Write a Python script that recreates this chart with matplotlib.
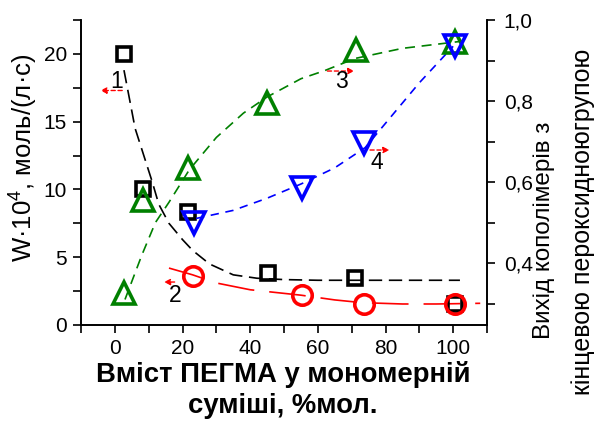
import matplotlib
matplotlib.use("Agg")
import matplotlib.pyplot as plt
from matplotlib.ticker import MultipleLocator, FuncFormatter

plt.rcParams['font.family'] = ['Liberation Sans', 'DejaVu Sans']
plt.rcParams['mathtext.fontset'] = 'custom'
plt.rcParams['mathtext.rm'] = 'Liberation Sans'
plt.rcParams['mathtext.it'] = 'Liberation Sans'

# Series 1: rate W (left axis), black squares
x1 = [2.7, 8.3, 21.5, 45.4, 71, 100.6]
y1 = [20.0, 10.0, 8.35, 3.85, 3.45, 1.55]
# fitted curve 1
fx1 = [2.7, 6, 11, 13, 16, 20, 23, 28, 35, 42, 50, 60, 75, 90, 102]
fy1 = [18.8, 14.5, 10.6, 8.9, 7.5, 6.3, 5.5, 4.5, 3.7, 3.45, 3.35, 3.3, 3.3, 3.3, 3.3]

# Series 2: rate W (left axis), red circles
x2 = [23.2, 55.2, 73.7, 100.6]
y2 = [3.6, 2.2, 1.55, 1.55]
fx2 = [16, 23, 30, 40, 55, 65, 73, 85, 95, 108]
fy2 = [4.2, 3.7, 3.1, 2.6, 2.2, 1.85, 1.65, 1.55, 1.55, 1.6]

# Series 3: yield (right axis), green triangles up
x3 = [2.7, 8.4, 21.5, 45, 71.3, 100.6]
y3 = [0.326, 0.556, 0.635, 0.795, 0.926, 0.946]
fx3 = [3, 8, 12, 16, 22, 30, 38, 45, 55, 62, 71, 85, 100, 103]
fy3 = [0.31, 0.42, 0.50, 0.55, 0.63, 0.71, 0.77, 0.81, 0.855, 0.875, 0.905, 0.93, 0.945, 0.948]

# Series 4: yield (right axis), blue triangles down
x4 = [23.3, 55.2, 73.7, 100.6]
y4 = [0.50, 0.585, 0.696, 0.936]
fx4 = [24, 35, 45, 55, 65, 74, 80, 90, 100]
fy4 = [0.51, 0.53, 0.56, 0.595, 0.635, 0.685, 0.745, 0.845, 0.935]

xticks = [0, 20, 40, 60, 80, 100]
yticks_left = [0, 5, 10, 15, 20]
yticks_right = [0.4, 0.6, 0.8, 1.0]

fig = plt.figure(figsize=(5.95, 4.21), dpi=100)
ax = fig.add_axes([81/595, 1-325/421, (487-81)/595, (325-20)/421])
ax2 = ax.twinx()

green = '#008000'
blue = '#0000FF'
red = '#FF0000'

ax.plot(fx1, fy1, color='black', lw=1.2, dashes=(8, 4), zorder=2)
ax.plot(fx2, fy2, color=red, lw=1.2, dashes=(22, 9), zorder=2)
ax.plot(x1, y1, linestyle='none', marker='s', ms=10.5, mfc='none', mec='black', mew=2.6, zorder=3)
ax.plot(x2, y2, linestyle='none', marker='o', ms=14, mfc='none', mec=red, mew=2.6, zorder=3)

ax2.plot(fx3, fy3, color=green, lw=1.2, dashes=(6, 4), zorder=2)
ax2.plot(fx4, fy4, color=blue, lw=1.2, dashes=(5, 4), zorder=2)
ax2.plot(x3, y3, linestyle='none', marker='^', ms=16, mfc='none', mec=green, mew=2.6, zorder=3)
ax2.plot(x4, y4, linestyle='none', marker='v', ms=16, mfc='none', mec=blue, mew=2.6, zorder=3)

ax.set_xlim(-10, 110)
ax.set_ylim(0, 22.5)
ax2.set_ylim(0.247, 1.0)

ax.set_xticks(xticks)
ax.set_yticks(yticks_left)
ax2.set_yticks(yticks_right)
ax.xaxis.set_minor_locator(MultipleLocator(10))
ax.yaxis.set_minor_locator(MultipleLocator(2.5))
ax2.yaxis.set_minor_locator(MultipleLocator(0.1))
ax2.yaxis.set_major_formatter(FuncFormatter(lambda v, p: f"{v:.1f}".replace('.', ',')))

for a in (ax, ax2):
    a.spines['top'].set_visible(False)
    for s in a.spines.values():
        s.set_linewidth(1.2)
ax.tick_params(axis='both', which='major', direction='out', length=6, width=1.2, labelsize=15, pad=4)
ax.tick_params(axis='both', which='minor', direction='out', length=6, width=1.2)
ax2.tick_params(axis='y', which='major', direction='out', length=6, width=1.2, labelsize=15, pad=6)
ax2.tick_params(axis='y', which='minor', direction='out', length=6, width=1.2)

# Annotations (curve numbers with red arrows)
arrow_kw = dict(arrowstyle='-|>', color=red, lw=1.0, linestyle=(0, (3, 2)), mutation_scale=9)
ax.annotate('', xy=(-5.1, 17.3), xytext=(3.0, 17.3), arrowprops=arrow_kw)
ax.text(0.6, 18.0, '1', fontsize=16.5, ha='center', va='center')
ax.annotate('', xy=(13.7, 3.17), xytext=(18.5, 3.17), arrowprops=arrow_kw)
ax.text(17.9, 2.2, '2', fontsize=16.5, ha='center', va='center')
ax2.annotate('', xy=(71.6, 0.874), xytext=(62.0, 0.874), arrowprops=arrow_kw)
ax2.text(66.9, 0.847, '3', fontsize=16.5, ha='center', va='center')
ax2.annotate('', xy=(82.0, 0.679), xytext=(74.6, 0.679), arrowprops=arrow_kw)
ax2.text(77.3, 0.649, '4', fontsize=16.5, ha='center', va='center')

# Axis labels
fig.text(24/595, 1-158/421, 'W·10$^4$, моль/(л·с)', rotation=90, fontsize=18.5,
         ha='center', va='center')
fig.text(283/595, 1-375/421, 'Вміст ПЕГМА у мономерній', fontsize=19.8, fontweight='bold',
         ha='center', va='center')
fig.text(283/595, 1-406/421, 'суміші, %мол.', fontsize=19.8, fontweight='bold',
         ha='center', va='center')
fig.text(544/595, 1-230/421, 'Вихід кополімерів з', rotation=90, fontsize=17.5,
         ha='center', va='center')
fig.text(583/595, 1-222/421, 'кінцевою пероксидноюгрупою', rotation=90, fontsize=18,
         ha='center', va='center')

fig.savefig('out.png', dpi=100)
